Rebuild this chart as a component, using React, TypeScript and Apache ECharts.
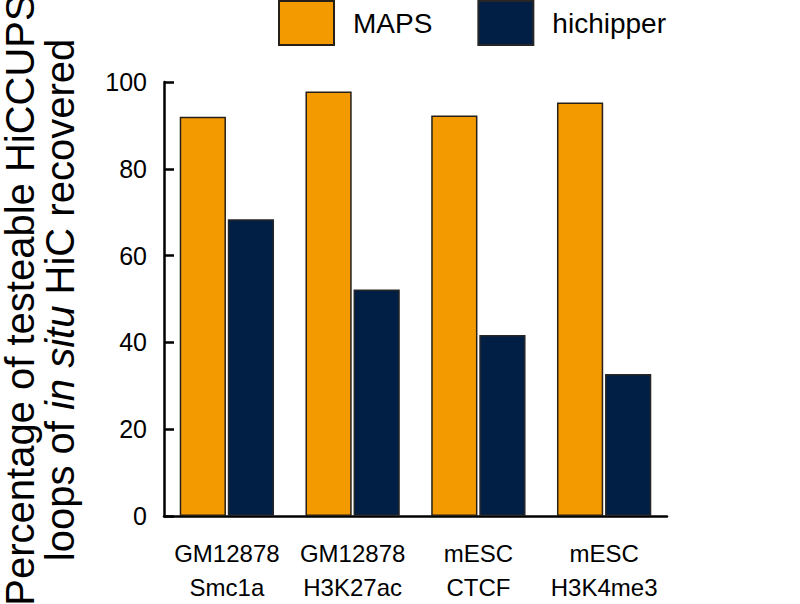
import React, { useEffect, useRef } from "react";
import * as echarts from "echarts";

const categories = ["GM12878\nSmc1a", "GM12878\nH3K27ac", "mESC\nCTCF", "mESC\nH3K4me3"];
const mapsValues = [92.0, 97.8, 92.3, 95.3];
const hichipperValues = [68.4, 52.2, 41.7, 32.7];
const yTicks = [0, 20, 40, 60, 80, 100];
const yTitleLines = ["Percentage of testeable HiCCUPS", "loops of {i|in situ} HiC recovered"];

export default function App() {
  const ref = useRef<HTMLDivElement>(null);
  useEffect(() => {
    if (!ref.current) return;
    const chart = echarts.init(ref.current, null, { renderer: "svg" });
    const font = "'Liberation Sans', Arial, sans-serif";
    chart.setOption({
      animation: false,
      textStyle: { fontFamily: font, color: "#000" },
      legend: {
        top: 0,
        left: 278,
        padding: 0,
        itemWidth: 55,
        itemHeight: 44,
        itemGap: 45,
        icon: "rect",
        textStyle: { fontSize: 28, color: "#000", fontFamily: font, padding: [0, 0, 0, 14] },
        data: ["MAPS", "hichipper"],
      },
      grid: { left: 164, right: 133, top: 82, bottom: 82, containLabel: false },
      xAxis: {
        type: "category",
        data: categories,
        boundaryGap: true,
        axisLine: { lineStyle: { color: "#000", width: 2.5 } },
        axisTick: { inside: true, length: 8, lineStyle: { color: "#000", width: 2.5 } },
        axisLabel: { fontSize: 24, color: "#000", fontFamily: font, lineHeight: 34, margin: 20, interval: 0 },
      },
      yAxis: {
        type: "value",
        min: yTicks[0],
        max: yTicks[yTicks.length - 1],
        interval: 20,
        splitLine: { show: false },
        axisLine: { show: true, lineStyle: { color: "#000", width: 2.5 } },
        axisTick: { show: true, inside: true, length: 10, lineStyle: { color: "#000", width: 2.5 } },
        axisLabel: { fontSize: 25, color: "#000", fontFamily: font, margin: 17 },
      },
      graphic: [
        {
          type: "text",
          x: 40,
          y: 300,
          rotation: Math.PI / 2,
          style: {
            text: yTitleLines.join("\n"),
            align: "center",
            verticalAlign: "middle",
            fontSize: 40,
            lineHeight: 40,
            fontFamily: font,
            fill: "#000",
            rich: { i: { fontStyle: "italic", fontSize: 40, lineHeight: 40, fontFamily: font, fill: "#000" } },
          },
        },
      ],
      series: [
        {
          name: "MAPS",
          type: "bar",
          data: mapsValues,
          barGap: "4%",
          barCategoryGap: "25%",
          itemStyle: { color: "#F39A00", borderColor: "#262018", borderWidth: 1.5 },
        },
        {
          name: "hichipper",
          type: "bar",
          data: hichipperValues,
          itemStyle: { color: "#011E45", borderColor: "#262626", borderWidth: 1.5 },
        },
      ],
    });
    return () => chart.dispose();
  }, []);
  return <div ref={ref} style={{ position: "absolute", left: 0, top: 0, width: 800, height: 604 }} />;
}
